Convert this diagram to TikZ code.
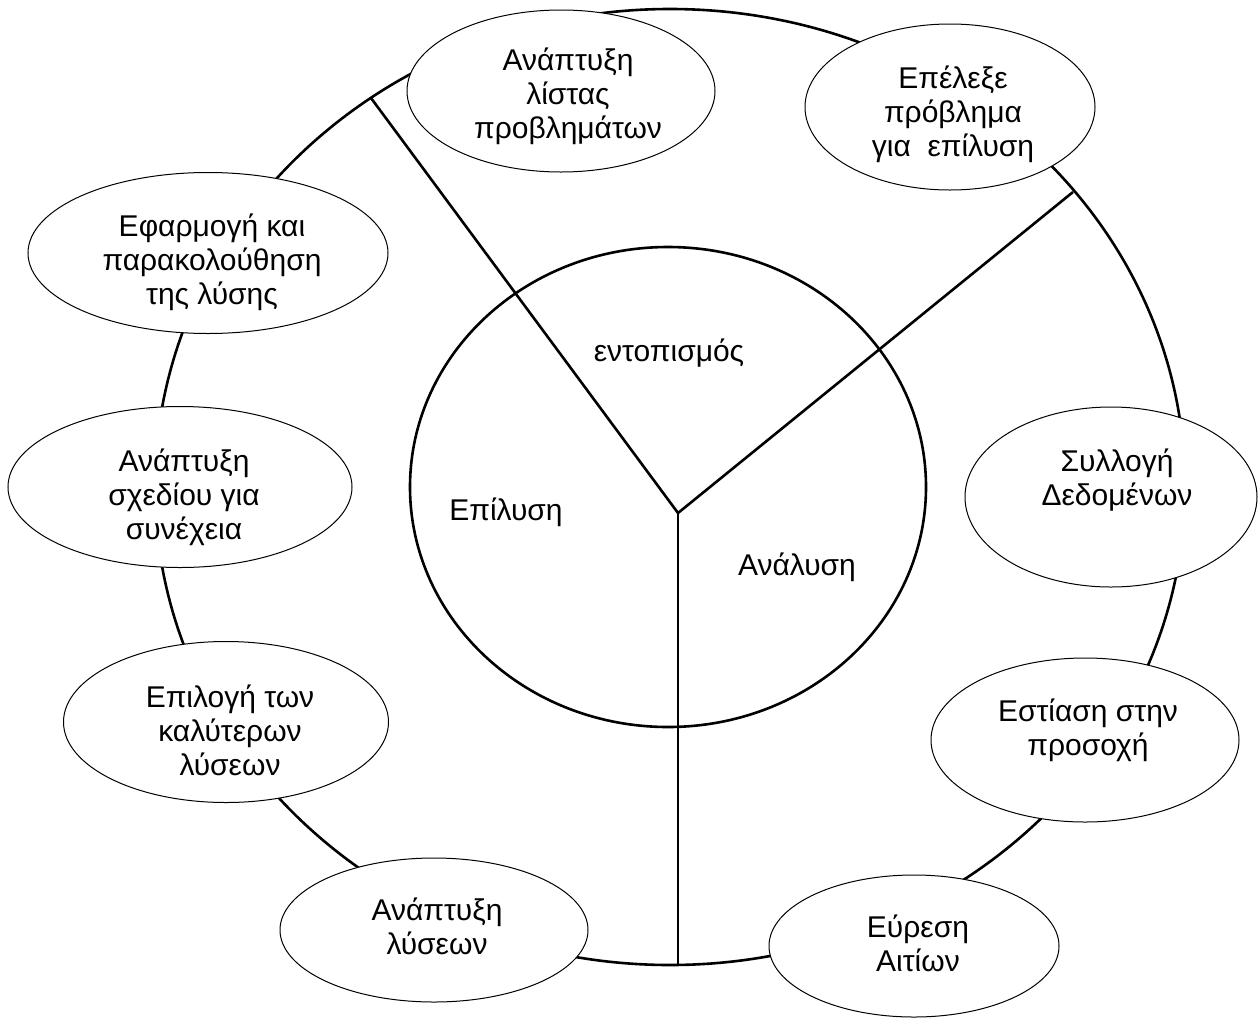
\documentclass[tikz,border=0pt]{standalone}
\usepackage{fontspec}
\setmainfont{Liberation Sans}
\usetikzlibrary{shapes.geometric}
\begin{document}
\begin{tikzpicture}[x=1pt,y=-1pt,
  ringline/.style={line width=2.6pt},
  bub/.style={draw, fill=white, ellipse, line width=1pt, inner sep=0pt},
  txt/.style={align=center, font=\fontsize{30}{34}\selectfont, inner sep=0pt},
]
\useasboundingbox (0,0) rectangle (1258,1018);
% outer cycle and the three-sector core
\node[ringline, draw, ellipse, inner sep=0pt, minimum width=1030pt, minimum height=956pt] (cycle) at (670,487) {};
\coordinate (hub) at (678,513);
\coordinate (endA) at (371,98);
\coordinate (endB) at (1073,192);
\coordinate (endC) at (678,965);
\draw[ringline] (hub) -- (endA);
\draw[ringline] (hub) -- (endB);
\draw[ringline] (hub) -- (endC);
\node[ringline, draw, ellipse, inner sep=0pt, minimum width=516pt, minimum height=480pt] (core) at (668,487) {};
\node[txt] (sec1) at (669,353) {εντοπισμός};
\node[txt] (sec2) at (506,512) {Επίλυση};
\node[txt] (sec3) at (797,567) {Ανάλυση};
% steps around the cycle
\node[bub, minimum width=308pt, minimum height=162pt] (lista) at (561,91) {};
\node[txt] (listaT) at (568,96) {Ανάπτυξη\\λίστας\\προβλημάτων};
\node[bub, minimum width=290pt, minimum height=166pt] (epil) at (950,107) {};
\node[txt] (epilT) at (953,114) {Επέλεξε\\πρόβλημα\\για\ \ επίλυση};
\node[bub, minimum width=292pt, minimum height=180pt] (syll) at (1111,497) {};
\node[txt] (syllT) at (1117,480) {Συλλογή\\Δεδομένων};
\node[bub, minimum width=308pt, minimum height=164pt] (esti) at (1085,740) {};
\node[txt] (estiT) at (1088,730) {Εστίαση στην\\προσοχή};
\node[bub, minimum width=290pt, minimum height=142pt] (evre) at (914,946) {};
\node[txt] (evreT) at (918,943) {Εύρεση\\Αιτίων};
\node[bub, minimum width=308pt, minimum height=144pt] (lyse) at (434,930) {};
\node[txt] (lyseT) at (437,926) {Ανάπτυξη\\λύσεων};
\node[bub, minimum width=325pt, minimum height=161pt] (epilo) at (226,722) {};
\node[txt] (epiloT) at (230,730) {Επιλογή των\\καλύτερων\\λύσεων};
\node[bub, minimum width=344pt, minimum height=161pt] (sxed) at (180,487) {};
\node[txt] (sxedT) at (184,497) {Ανάπτυξη\\σχεδίου για\\συνέχεια};
\node[bub, minimum width=360pt, minimum height=161pt] (efar) at (208,253) {};
\node[txt] (efarT) at (212,262) {Εφαρμογή και\\παρακολούθηση\\της λύσης};
\end{tikzpicture}
\end{document}
